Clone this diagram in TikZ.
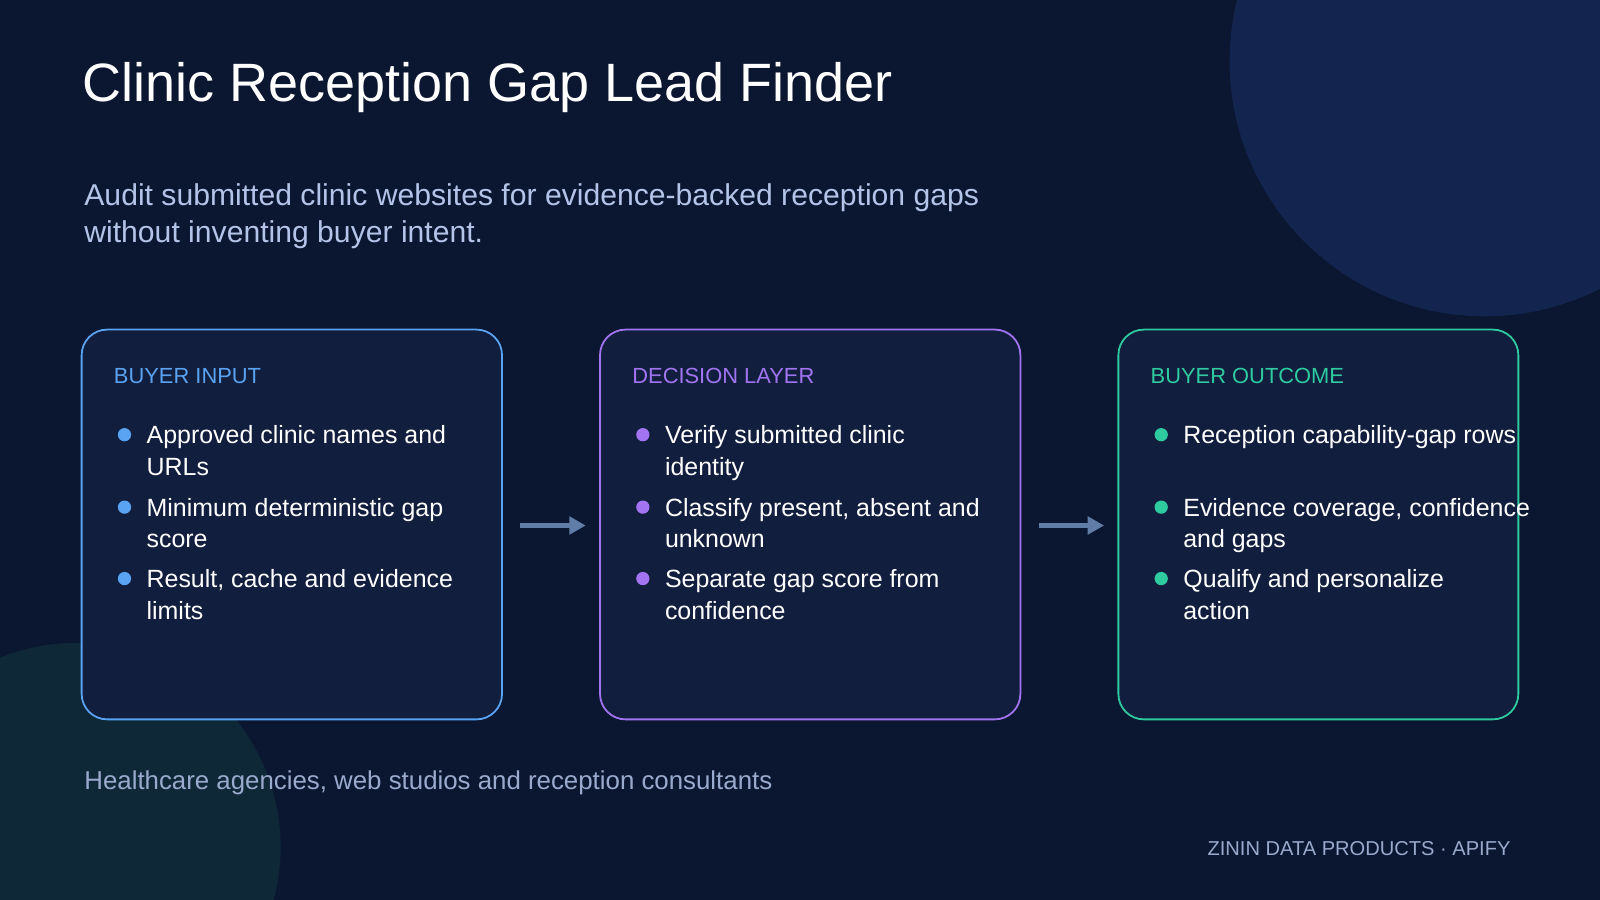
\documentclass[tikz,border=0pt]{standalone}
\usepackage{fontspec}
\setmainfont{Liberation Sans}
\usetikzlibrary{arrows.meta}
\definecolor{bg}{HTML}{0B1630}
\definecolor{boxfill}{HTML}{111E3D}
\definecolor{cblue}{HTML}{5AA2F2}
\definecolor{cpurple}{HTML}{A274F2}
\definecolor{cteal}{HTML}{2FCBA0}
\definecolor{sub}{HTML}{B4C4E8}
\definecolor{foot}{HTML}{9AAACC}
\definecolor{arr}{HTML}{5F7DA6}
\definecolor{circA}{HTML}{13244E}
\definecolor{circB}{HTML}{0E2838}
\tikzset{
 px/.style={x=0.01cm,y=-0.01cm},
 card/.style={draw=#1,line width=0.5pt,fill=boxfill,rounded corners=0.25cm},
 head/.style={anchor=base west,text=#1,font=\fontsize{6.1}{7}\selectfont,inner sep=0},
 item/.style={anchor=base west,text=white,font=\fontsize{6.95}{8.85}\selectfont,inner sep=0,align=left},
 dot/.style={circle,fill=#1,minimum size=0.13cm,inner sep=0},
 flow/.style={draw=arr,line width=1.3pt,-{Triangle[length=0.16cm,width=0.17cm]}}
}
\begin{document}
\begin{tikzpicture}[px]
\useasboundingbox (0,0) rectangle (1568,882);
\fill[bg] (0,0) rectangle (1568,882);
\begin{scope}
\clip (0,0) rectangle (1568,882);
\fill[circA] (1455,60) circle (250);
\fill[circB] (75,830) circle (200);
\end{scope}
\node[anchor=base west,text=white,font=\fontsize{15.05}{18}\selectfont,inner sep=0] (title) at (80,99) {Clinic Reception Gap Lead Finder};
\node[anchor=base west,text=sub,font=\fontsize{8.4}{10.5}\selectfont,inner sep=0,align=left] (subt) at (82,238) {Audit submitted clinic websites for evidence-backed reception gaps\\without inventing buyer intent.};
% cards
\draw[card=cblue] (80,323) rectangle (492,705);
\draw[card=cpurple] (588,323) rectangle (1000,705);
\draw[card=cteal] (1096,323) rectangle (1488,705);
\coordinate (s1) at (510,515); \coordinate (e1) at (574,515);
\coordinate (s2) at (1018,515); \coordinate (e2) at (1082,515);
\draw[flow] (s1) -- (e1);
\draw[flow] (s2) -- (e2);
% headers
\node[head=cblue] (h1) at (111,376) {BUYER INPUT};
\node[head=cpurple] (h2) at (619,376) {DECISION LAYER};
\node[head=cteal] (h3) at (1127,376) {BUYER OUTCOME};
% items
\foreach \c/\x/\col in {1/111/cblue,2/619/cpurple,3/1127/cteal}{
 \foreach \y in {426,497,567}{\node[dot=\col] at (\x+11,\y) {};}
}
\node[item] (a1) at (143,466) {Approved clinic names and\\URLs};
\node[item] (a2) at (143,537) {Minimum deterministic gap\\score};
\node[item] (a3) at (143,607) {Result, cache and evidence\\limits};
\node[item] (b1) at (651,466) {Verify submitted clinic\\identity};
\node[item] (b2) at (651,537) {Classify present, absent and\\unknown};
\node[item] (b3) at (651,607) {Separate gap score from\\confidence};
\node[item] (d1) at (1159,435) {Reception capability-gap rows};
\node[item] (d2) at (1159,537) {Evidence coverage, confidence\\and gaps};
\node[item] (d3) at (1159,607) {Qualify and personalize\\action};
\node[anchor=base west,text=foot,font=\fontsize{7.2}{9}\selectfont,inner sep=0] (ft) at (82,774) {Healthcare agencies, web studios and reception consultants};
\node[anchor=base east,text=foot,font=\fontsize{5.6}{7}\selectfont,inner sep=0] (brand) at (1481,838) {ZININ DATA PRODUCTS · APIFY};
\end{tikzpicture}
\end{document}
